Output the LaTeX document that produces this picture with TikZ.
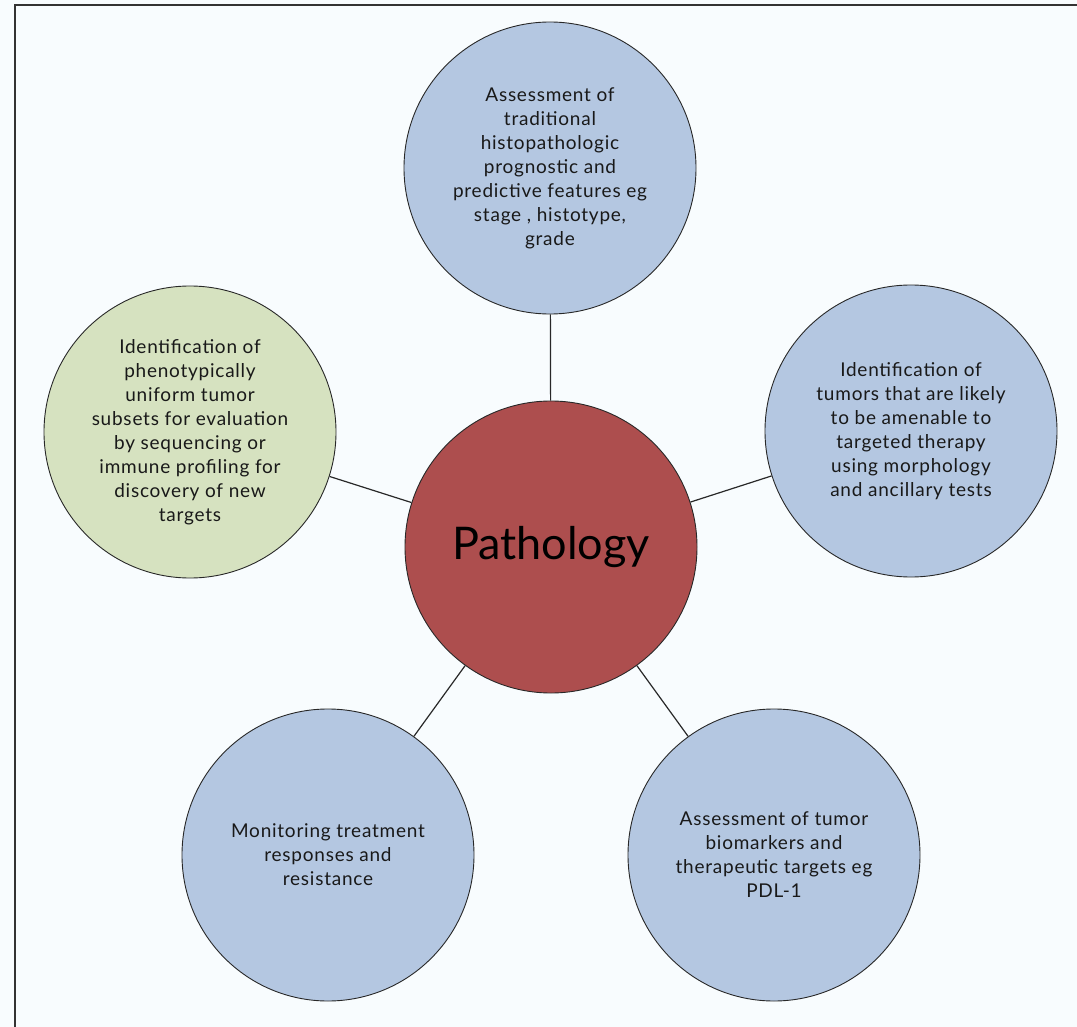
\documentclass[tikz,border=0pt]{standalone}
\usepackage{fontspec}
\setmainfont{Lato}
\newfontfamily\bubblefont[LetterSpace=4]{Lato}
\definecolor{bgc}{RGB}{248,252,254}
\definecolor{bluec}{RGB}{180,199,225}
\definecolor{greenc}{RGB}{214,226,192}
\definecolor{redc}{RGB}{173,78,78}
\definecolor{linec}{RGB}{40,40,40}
\begin{document}
\begin{tikzpicture}[x=1pt,y=-1pt,
  bubble/.style={circle, draw=linec, line width=0.9pt, minimum size=292pt, inner sep=0pt,
    align=center, font=\bubblefont\fontsize{19}{24}\selectfont, text=black!90},
  link/.style={draw=linec, line width=1.2pt}]
\fill[bgc] (0,0) rectangle (1077,1027);
\useasboundingbox (0,0) rectangle (1077,1027);
\draw[line width=2pt, draw=black!80] (15,1027) -- (15,5) -- (1077,5);

\node[bubble, fill=redc, font=\fontsize{45}{54}\selectfont, text=black] (c) at (551,547) {Pathology};
\node[bubble, fill=bluec] (t) at (550,168) {Assessment of\\traditional\\histopathologic\\prognostic and\\predictive features eg\\stage , histotype,\\grade};
\node[bubble, fill=bluec] (r) at (911,431) {Identification of\\tumors that are likely\\to be amenable to\\targeted therapy\\using morphology\\and ancillary tests};
\node[bubble, fill=greenc] (l) at (190,432) {Identification of\\phenotypically\\uniform tumor\\subsets for evaluation\\by sequencing or\\immune profiling for\\discovery of new\\targets};
\node[bubble, fill=bluec] (bl) at (328,855) {Monitoring treatment\\responses and\\resistance};
\node[bubble, fill=bluec] (br) at (774,855) {Assessment of tumor\\biomarkers and\\therapeutic targets eg\\PDL-1};

\draw[link] (c) -- (t);
\draw[link] (c) -- (r);
\draw[link] (c) -- (l);
\draw[link] (c) -- (bl);
\draw[link] (c) -- (br);
\end{tikzpicture}
\end{document}
